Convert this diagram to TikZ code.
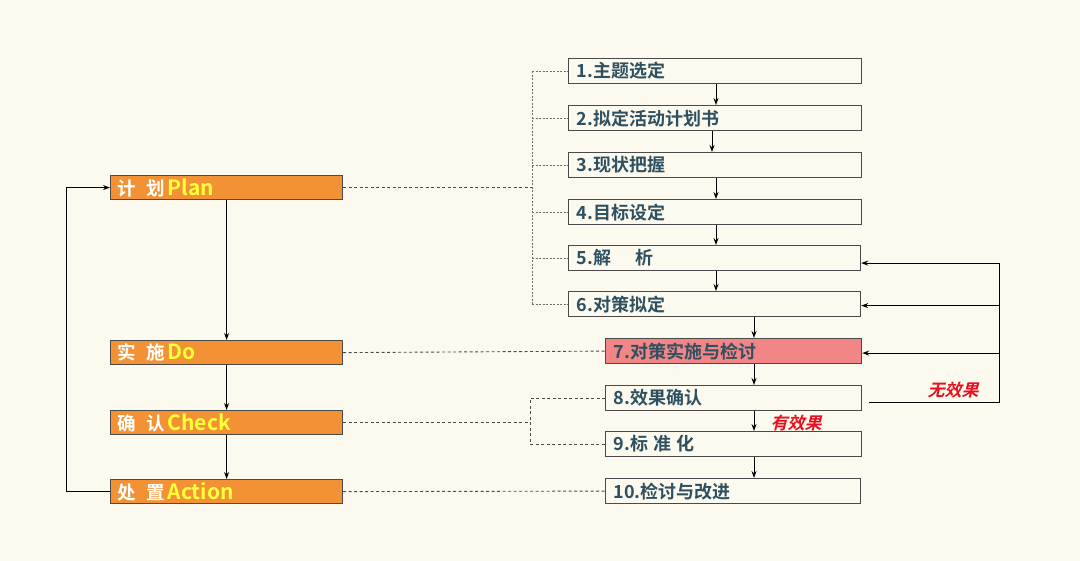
\documentclass[tikz,border=0pt]{standalone}
\usepackage{fontspec}
\usetikzlibrary{arrows.meta,calc}
\newfontfamily\cjk{Noto Sans CJK SC Bold}
\newfontfamily\cjksl{Noto Sans CJK SC Bold}[FakeSlant=0.25]
\newcommand\lat{\fontsize{21}{21}\selectfont}
\definecolor{bg}{HTML}{FCFAEF}
\definecolor{orangefill}{HTML}{F39234}
\definecolor{pinkfill}{HTML}{F28585}
\definecolor{txtdark}{HTML}{2E5060}
\definecolor{txtyellow}{HTML}{FFFF3A}
\definecolor{redlab}{HTML}{E8101E}
\definecolor{edge}{HTML}{4A4A4A}
\begin{document}
\begin{tikzpicture}[x=1pt,y=-1pt,
  lbox/.style={draw=edge,line width=1.2pt,fill=orangefill,anchor=north west,minimum height=24pt,
    text width=218pt,align=left,inner xsep=7pt,inner ysep=0pt,minimum width=232pt,
    font=\cjk\fontsize{18.5}{19}\selectfont},
  rbox/.style={draw=edge,line width=1.2pt,anchor=north west,minimum height=25pt,
    inner xsep=8pt,inner ysep=0pt,align=left,text=txtdark,font=\cjk\fontsize{18}{18}\selectfont},
  arr/.style={draw=black,line width=1pt,-{Stealth[length=7pt,width=5pt]}},
  dsh/.style={draw=edge,line width=0.9pt,dash pattern=on 3pt off 2.5pt},
  dsh2/.style={draw=edge!80,line width=0.7pt,dash pattern=on 2pt off 1.5pt},
  lab/.style={text=redlab,font=\cjksl\fontsize{17}{17}\selectfont}
]
\fill[bg] (0,0) rectangle (1080,561);
\useasboundingbox (0,0) rectangle (1080,561);

% left column
\node[lbox] (plan) at (110,175) {\textcolor{white}{计\hspace{10pt}划}\hspace{3pt}\textcolor{txtyellow}{\lat Plan}};
\node[lbox] (do) at (110,340) {\textcolor{white}{实\hspace{10pt}施}\hspace{3pt}\textcolor{txtyellow}{\lat Do}};
\node[lbox] (chk) at (110,410) {\textcolor{white}{确\hspace{10pt}认}\hspace{3pt}\textcolor{txtyellow}{\lat Check}};
\node[lbox] (act) at (110,479) {\textcolor{white}{处\hspace{10pt}置}\hspace{3pt}\textcolor{txtyellow}{\lat Action}};

% right column
\node[rbox,minimum width=293pt,text width=277pt] (b1) at (568,58) {1.主题选定};
\node[rbox,minimum width=293pt,text width=277pt] (b2) at (568,105) {2.拟定活动计划书};
\node[rbox,minimum width=293pt,text width=277pt] (b3) at (568,152) {3.现状把握};
\node[rbox,minimum width=293pt,text width=277pt] (b4) at (568,199) {4.目标设定};
\node[rbox,minimum width=292pt,text width=276pt] (b5) at (568,245) {5.解\hspace{24pt}析};
\node[rbox,minimum width=292pt,text width=276pt] (b6) at (568,291) {6.对策拟定};
\node[rbox,fill=pinkfill,minimum width=256pt,text width=240pt] (b7) at (605,338) {7.对策实施与检讨};
\node[rbox,minimum width=256pt,text width=240pt] (b8) at (605,385) {8.效果确认};
\node[rbox,minimum width=256pt,text width=240pt] (b9) at (605,431) {9.标\hspace{5pt}准\hspace{5pt}化};
\node[rbox,minimum width=255pt,text width=239pt] (b10) at (605,478) {10.检讨与改进};

% helper coordinates
\coordinate (xa) at (716,0);
\coordinate (xb) at (712,0);
\coordinate (xc) at (754,0);
\coordinate (j1) at (532,0);
\coordinate (j2) at (530,0);
\coordinate (fb) at (999,0);

% flow arrows right column
\draw[arr] (b1.south -| xa) -- (b2.north -| xa);
\draw[arr] (b2.south -| xb) -- (b3.north -| xb);
\draw[arr] (b3.south -| xa) -- (b4.north -| xa);
\draw[arr] (b4.south -| xa) -- (b5.north -| xa);
\draw[arr] (b5.south -| xa) -- (b6.north -| xa);
\draw[arr] (b6.south -| xc) -- (b7.north -| xc);
\draw[arr] (b7.south -| xc) -- (b8.north -| xc);
\draw[arr] (b8.south -| xc) -- (b9.north -| xc);
\draw[arr] (b9.south -| xc) -- (b10.north -| xc);

% left column arrows
\draw[arr] (plan.south) -- (do.north);
\draw[arr] (do.south) -- (chk.north);
\draw[arr] (chk.south) -- (act.north);
\coordinate (lp) at (66,0);
\draw[arr] (act.west) -- (act.west -| lp) -- (plan.west -| lp) -- (plan.west);

% dashed connections
\draw[dsh] (plan.east) -- (plan.east -| j1);
\draw[dsh2] (b1.west -| j1) -- (b6.west -| j1);
\foreach \b in {b1,b2,b3,b4,b5,b6} \draw[dsh2] (\b.west -| j1) -- (\b.west);
\draw[dsh] (do.east) -- (b7.west);
\draw[dsh] (chk.east) -- (chk.east -| j2);
\draw[dsh] (b8.west) -- (b8.west -| j2) -- (b9.west -| j2) -- (b9.west);
\draw[dsh] (act.east) -- (b10.west);

% feedback loop
\coordinate (fs) at ($(b8.east)+(7,4.5)$);
\coordinate (t5) at ($(b5.east)+(0,5)$);
\coordinate (t6) at ($(b6.east)+(0,1.5)$);
\coordinate (t7) at ($(b7.east)+(0,2)$);
\draw[line width=1pt] (fs) -- (fs -| fb) -- (t5 -| fb);
\draw[arr] (t5 -| fb) -- (t5);
\draw[arr] (t6 -| fb) -- (t6);
\draw[arr] (t7 -| fb) -- (t7);

% labels
\node[lab] (nl) at (953,390) {无效果};
\node[lab] (yl) at (796,423) {有效果};
\end{tikzpicture}
\end{document}
